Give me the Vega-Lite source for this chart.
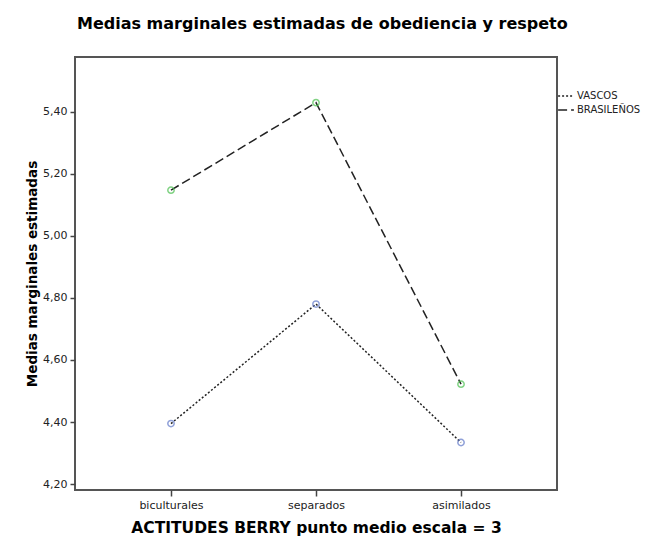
{
  "$schema": "https://vega.github.io/schema/vega-lite/v6.json",
  "width": 482,
  "height": 433,
  "autosize": "none",
  "padding": {"left": 75, "top": 57, "right": 107, "bottom": 47},
  "background": "white",
  "config": {
    "font": "DejaVu Sans",
    "view": {"stroke": "#555555", "strokeWidth": 2}
  },
  "title": {
    "text": "Medias marginales estimadas de obediencia y respeto",
    "anchor": "start",
    "frame": "group",
    "fontSize": 16,
    "fontWeight": "bold",
    "color": "#000000",
    "offset": 25,
    "dx": 2
  },
  "data": {
    "values": [
      {"actitud": "biculturales", "grupo": "VASCOS", "media": 4.395},
      {"actitud": "separados", "grupo": "VASCOS", "media": 4.780},
      {"actitud": "asimilados", "grupo": "VASCOS", "media": 4.334},
      {"actitud": "biculturales", "grupo": "BRASILEÑOS", "media": 5.147},
      {"actitud": "separados", "grupo": "BRASILEÑOS", "media": 5.429},
      {"actitud": "asimilados", "grupo": "BRASILEÑOS", "media": 4.522}
    ]
  },
  "encoding": {
    "x": {
      "field": "actitud",
      "type": "ordinal",
      "sort": ["biculturales", "separados", "asimilados"],
      "scale": {"type": "point", "padding": 0.662},
      "axis": {
        "title": "ACTITUDES BERRY punto medio escala = 3",
        "titleFontSize": 15.5,
        "titleFontWeight": "bold",
        "titleColor": "#000000",
        "titlePadding": 10,
        "labelAngle": 0,
        "labelFontSize": 11,
        "labelColor": "#222222",
        "labelPadding": 3,
        "domain": false,
        "grid": false,
        "tickSize": 6,
        "tickColor": "#444444",
        "tickWidth": 1.5
      }
    },
    "y": {
      "field": "media",
      "type": "quantitative",
      "scale": {"domain": [4.181, 5.576], "nice": false, "zero": false},
      "axis": {
        "title": "Medias marginales estimadas",
        "titleFontSize": 13.5,
        "titleFontWeight": "bold",
        "titleColor": "#000000",
        "titlePadding": 3,
        "values": [4.2, 4.4, 4.6, 4.8, 5.0, 5.2, 5.4],
        "labelExpr": "replace(format(datum.value, '.2f'), '.', ',')",
        "labelFontSize": 11,
        "labelColor": "#222222",
        "labelPadding": 3,
        "domain": false,
        "grid": false,
        "tickSize": 5,
        "tickColor": "#444444",
        "tickWidth": 1.5
      }
    }
  },
  "layer": [
    {
      "mark": {"type": "line", "color": "#222222", "strokeWidth": 1.5},
      "encoding": {
        "detail": {"field": "grupo"},
        "strokeDash": {
          "field": "grupo",
          "type": "nominal",
          "scale": {"domain": ["VASCOS", "BRASILEÑOS"], "range": [[2, 2], [9, 4]]},
          "legend": {
            "title": null,
            "orient": "none",
            "legendX": 482,
            "legendY": 30,
            "labelFontSize": 10,
            "labelColor": "#222222",
            "symbolType": "stroke",
            "symbolStrokeColor": "#222222",
            "symbolStrokeWidth": 1.5,
            "symbolSize": 250,
            "rowPadding": 0,
            "labelOffset": 2
          }
        }
      }
    },
    {
      "transform": [{"filter": "datum.grupo === 'VASCOS'"}],
      "mark": {"type": "point", "filled": false, "size": 40, "strokeWidth": 1.5, "color": "#6078c8"}
    },
    {
      "transform": [{"filter": "datum.grupo === 'BRASILEÑOS'"}],
      "mark": {"type": "point", "filled": false, "size": 40, "strokeWidth": 1.5, "color": "#4cc050"}
    }
  ]
}
